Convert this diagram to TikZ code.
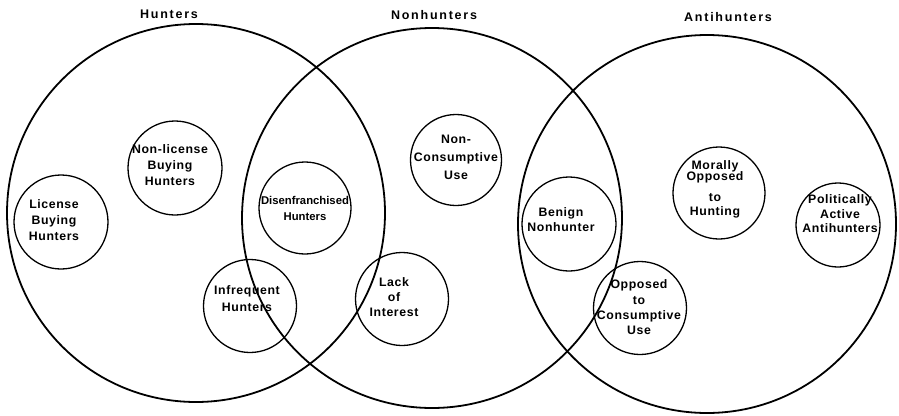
\documentclass[tikz,border=0pt]{standalone}
\usepackage{fontspec}
\setmainfont{Liberation Sans}
\newfontfamily\lblfont{Liberation Sans Bold}[LetterSpace=5]
\newfontfamily\ttlfont{Liberation Sans Bold}[LetterSpace=14]
\newfontfamily\tightfont{Liberation Sans Bold}[LetterSpace=0]
\newcommand\mylskip{\lineskiplimit=-20pt\relax}
\begin{document}
\begin{tikzpicture}[x=1pt,y=-1pt,
  bigset/.style={draw, circle, line width=1.8pt, inner sep=0pt, minimum size=#1},
  subset/.style={draw, circle, line width=1.3pt, inner sep=0pt, minimum size=#1},
  lbl/.style={align=center, inner sep=0pt, font={\lblfont\fontsize{12.3}{16}\selectfont\mylskip}},
  tlbl/.style={align=center, inner sep=0pt, font={\tightfont\fontsize{11.3}{15.5}\selectfont\mylskip}},
  ttl/.style={inner sep=0pt, font={\ttlfont\fontsize{12.5}{15}\selectfont}}]
\useasboundingbox[fill=white] (0,0) rectangle (899,415);
% big circles
\node[bigset=378pt] (H) at (196,213) {};
\node[bigset=380pt] (N) at (432,218) {};
\node[bigset=378pt] (A) at (707,224) {};
% titles
\node[ttl] (tH) at (169,14.5) {Hunters};
\node[ttl] (tN) at (434,15) {Nonhunters};
\node[ttl] (tA) at (728,17.5) {Antihunters};
% small circles
\node[subset=94pt] (lbh) at (61,222) {};
\node[subset=94pt] (nlbh) at (175,168) {};
\node[subset=92pt] (dh) at (305,208) {};
\node[subset=91pt] (ncu) at (456,160) {};
\node[subset=93pt] (ih) at (250,306) {};
\node[subset=93pt] (li) at (402,299) {};
\node[subset=94pt] (bn) at (569,224) {};
\node[subset=92pt] (moh) at (719,193) {};
\node[subset=84pt] (paa) at (838,225) {};
\node[subset=93pt] (ocu) at (640,308) {};
% texts
\node[lbl] (xlbh) at (54,220) {License\\Buying\\Hunters};
\node[lbl] (xnlbh) at (170,165) {Non-license\\Buying\\Hunters};
\node[tlbl] (xdh) at (305,208.5) {Disenfranchised\\Hunters};
\node[lbl] (xncu) at (456,157.5) {Non-\\[2pt]Consumptive\\[2pt]Use};
\node[lbl] (xih) at (247,298.5) {Infrequent\\[1pt]Hunters};
\node[lbl] (xli) at (394,297) {Lack\\[-1pt]of\\[-1pt]Interest};
\node[lbl] (xbn) at (561,220) {Benign\\[-1pt]Nonhunter};
\node[lbl] (xmoh) at (715,189.5) {Morally\\[-5pt]Opposed\\[5pt]to\\[-2pt]Hunting};
\node[lbl] (xpaa) at (840,214) {Politically\\[-1pt]Active\\[-2pt]Antihunters};
\node[lbl] (xocu) at (639,307) {Opposed\\[-0.5pt]to\\[-0.5pt]Consumptive\\[-1.5pt]Use};
\end{tikzpicture}
\end{document}
